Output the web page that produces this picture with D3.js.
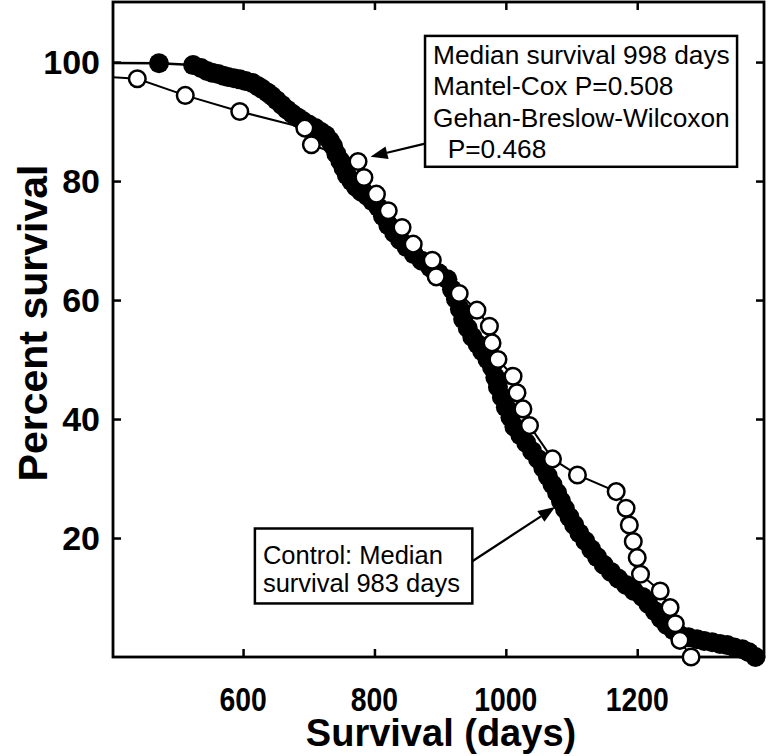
<!DOCTYPE html>
<html>
<head>
<meta charset="utf-8">
<script src="https://cdn.jsdelivr.net/npm/d3@7"></script>
<style>
  html, body { margin: 0; padding: 0; background: #fff; }
  svg { display: block; }
  text { font-family: "Liberation Sans", Arial, sans-serif; fill: #000; }
</style>
</head>
<body>
<svg id="chart" width="769" height="756"></svg>
<script>
// ---------------- data ----------------
// Control group (filled circles): day of event, percent surviving
const controlDays = [472,524,536,545,553,562,570,577,586,595,604,614,622,629,637,644,651,659,667,675,683,691,700,710,718,726,732,737,742,748,753,758,765,772,780,789,797,806,813,821,830,839,849,860,872,885,898,911,918,924,930,935,942,949,957,964,972,979,984,988,994,1000,1007,1013,1022,1031,1040,1049,1057,1064,1071,1078,1084,1090,1097,1104,1112,1121,1130,1139,1149,1160,1171,1183,1195,1208,1217,1227,1236,1245,1255,1265,1278,1291,1302,1314,1326,1337,1348,1360,1370,1380];
const controlPct  = [99.8,99.5,99.0,98.5,98.2,98.0,97.7,97.5,97.3,97.1,96.8,96.5,96.0,95.5,94.9,94.3,93.6,92.8,92.0,91.3,90.7,90.1,89.5,88.9,88.3,87.7,86.8,85.9,84.6,83.4,82.2,81.0,80.0,79.0,78.2,77.5,76.6,75.6,74.1,72.6,71.3,70.1,68.9,67.7,66.6,65.5,64.5,63.5,61.8,60.2,58.5,56.8,55.3,53.8,52.6,51.4,50.0,48.7,47.0,45.4,43.7,42.0,40.3,38.7,37.3,36.0,34.6,33.3,31.8,30.4,29.0,27.6,26.2,24.9,23.5,22.2,20.8,19.5,18.1,16.8,15.5,14.3,13.2,12.1,11.1,10.1,8.9,7.7,6.5,5.4,4.5,3.7,3.3,3.0,2.7,2.5,2.2,2.0,1.6,1.3,0.8,0.0];

// Treated group (open circles)
const treatedDays = [439,512,595,694,704,775,784,803,821,842,859,888,894,929,956,975,979,988,1011,1017,1026,1036,1071,1109,1168,1183,1188,1194,1200,1205,1235,1250,1258,1265,1282];
const treatedPct  = [97.2,94.4,91.7,88.9,86.1,83.3,80.6,77.8,75.0,72.2,69.4,66.7,63.9,61.1,58.3,55.6,52.8,50.0,47.2,44.4,41.7,38.9,33.3,30.6,27.8,25.0,22.2,19.4,16.7,13.9,11.1,8.3,5.6,2.8,0.0];

const xTickValues = [600, 800, 1000, 1200];
const yTickValues = [20, 40, 60, 80, 100];
const xDomain = [402, 1393];
const yDomain = [0, 110.1];

const xTitle = "Survival (days)";
const yTitle = "Percent survival";
const treatedNote = ["Median survival 998 days", "Mantel-Cox P=0.508", "Gehan-Breslow-Wilcoxon", "  P=0.468"];
const controlNote = ["Control: Median", "survival 983 days"];

// ---------------- layout ----------------
const svg = d3.select("#chart");
const plot = { left: 113, top: 2, right: 764, bottom: 657 };
const x = d3.scaleLinear().domain(xDomain).range([plot.left, plot.right]);
const y = d3.scaleLinear().domain(yDomain).range([plot.bottom, plot.top]);

svg.append("defs").append("clipPath").attr("id", "clip")
  .append("rect").attr("x", plot.left).attr("y", plot.top)
  .attr("width", plot.right - plot.left).attr("height", plot.bottom - plot.top);

// frame & inward ticks using d3 axes
const tickLen = 8;
const gB = svg.append("g").attr("transform", `translate(0,${plot.bottom})`)
  .call(d3.axisTop(x).tickValues(xTickValues).tickSize(tickLen).tickFormat(""));
const gT = svg.append("g").attr("transform", `translate(0,${plot.top})`)
  .call(d3.axisBottom(x).tickValues(xTickValues).tickSize(tickLen).tickFormat(""));
const gL = svg.append("g").attr("transform", `translate(${plot.left},0)`)
  .call(d3.axisRight(y).tickValues(yTickValues).tickSize(tickLen).tickFormat(""));
const gR = svg.append("g").attr("transform", `translate(${plot.right},0)`)
  .call(d3.axisLeft(y).tickValues(yTickValues).tickSize(tickLen).tickFormat(""));
[gB, gT, gL, gR].forEach(g => {
  g.select(".domain").remove();
  g.selectAll("line").attr("stroke", "#000").attr("stroke-width", 2.5);
});
svg.append("rect")
  .attr("x", plot.left).attr("y", plot.top)
  .attr("width", plot.right - plot.left).attr("height", plot.bottom - plot.top)
  .attr("fill", "none").attr("stroke", "#000").attr("stroke-width", 2.8);

// tick labels
svg.append("g").selectAll("text").data(yTickValues).join("text")
  .attr("x", 100).attr("y", d => y(d))
  .attr("text-anchor", "end").attr("dominant-baseline", "central")
  .attr("font-size", 34).attr("font-weight", "bold")
  .text(d => d);
svg.append("g").selectAll("text").data(xTickValues).join("text")
  .attr("transform", d => `translate(${x(d)},711) scale(0.86,1)`)
  .attr("text-anchor", "middle")
  .attr("font-size", 33).attr("font-weight", "bold")
  .text(d => d);

// axis titles
svg.append("text")
  .attr("x", 441).attr("y", 746)
  .attr("text-anchor", "middle").attr("font-size", 38).attr("font-weight", "bold")
  .text(xTitle);
svg.append("text")
  .attr("transform", `translate(47,323) rotate(-90)`)
  .attr("text-anchor", "middle").attr("font-size", 41).attr("font-weight", "bold")
  .text(yTitle);

// ---------------- series ----------------
const control = controlDays.map((d, i) => ({ d, p: controlPct[i] }));
const treated = treatedDays.map((d, i) => ({ d, p: treatedPct[i] }));
const line = d3.line().x(v => x(v.d)).y(v => y(v.p));

// Kaplan-Meier curves start at 100% on day 0
svg.append("path").datum([{ d: 0, p: 100 }, ...control])
  .attr("d", line).attr("fill", "none").attr("stroke", "#000").attr("stroke-width", 2.5)
  .attr("clip-path", "url(#clip)");
svg.append("g").selectAll("circle").data(control).join("circle")
  .attr("cx", v => x(v.d)).attr("cy", v => y(v.p)).attr("r", 10)
  .attr("fill", "#000");

svg.append("path").datum([{ d: 0, p: 100 }, ...treated])
  .attr("d", line).attr("fill", "none").attr("stroke", "#000").attr("stroke-width", 2)
  .attr("clip-path", "url(#clip)");
svg.append("g").selectAll("circle").data(treated).join("circle")
  .attr("cx", v => x(v.d)).attr("cy", v => y(v.p)).attr("r", 8.3)
  .attr("fill", "#fff").attr("stroke", "#000").attr("stroke-width", 2.5);

// ---------------- annotations ----------------
function arrow(x1, y1, x2, y2) {
  const ang = Math.atan2(y2 - y1, x2 - x1);
  const L = 17, W = 6.5;
  const bx = x2 - L * Math.cos(ang), by = y2 - L * Math.sin(ang);
  svg.append("line").attr("x1", x1).attr("y1", y1).attr("x2", bx).attr("y2", by)
    .attr("stroke", "#000").attr("stroke-width", 2.2);
  const p1 = [bx + W * Math.sin(ang), by - W * Math.cos(ang)];
  const p2 = [bx - W * Math.sin(ang), by + W * Math.cos(ang)];
  svg.append("path").attr("d", `M${x2},${y2}L${p1[0]},${p1[1]}L${p2[0]},${p2[1]}Z`).attr("fill", "#000");
}

// treated box
const b1 = { x0: x(877), x1: x(1352), y0: y(104.4), y1: y(82.4) };
svg.append("rect").attr("x", b1.x0).attr("y", b1.y0)
  .attr("width", b1.x1 - b1.x0).attr("height", b1.y1 - b1.y0)
  .attr("fill", "#fff").attr("stroke", "#000").attr("stroke-width", 2.5);
svg.append("g").selectAll("text").data(treatedNote).join("text")
  .attr("x", b1.x0 + 8).attr("y", (d, i) => b1.y0 + 28 + i * 31.3)
  .attr("font-size", 26.3)
  .style("white-space", "pre")
  .text(d => d);
arrow(b1.x0, y(86.3), x(794), y(84.1));

// control box
const b2 = { x0: x(618), x1: x(949), y0: y(21.6), y1: y(9.0) };
svg.append("rect").attr("x", b2.x0).attr("y", b2.y0)
  .attr("width", b2.x1 - b2.x0).attr("height", b2.y1 - b2.y0)
  .attr("fill", "#fff").attr("stroke", "#000").attr("stroke-width", 2.5);
svg.append("g").selectAll("text").data(controlNote).join("text")
  .attr("x", b2.x0 + 8).attr("y", (d, i) => b2.y0 + 36 + i * 28)
  .attr("font-size", 25.5)
  .text(d => d);
arrow(b2.x1, y(16.1), x(1075), y(25.2));
</script>
</body>
</html>
